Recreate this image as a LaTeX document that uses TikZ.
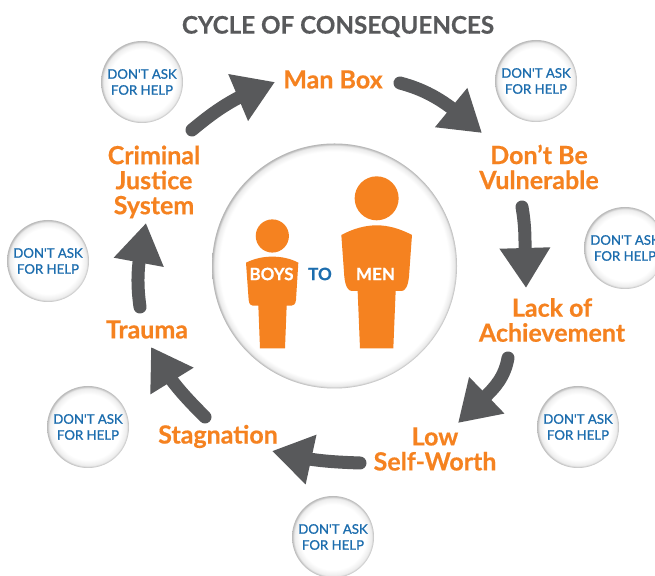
\documentclass[tikz,border=0pt]{standalone}
\usepackage{fontspec}
\setmainfont{Lato}[BoldFeatures={FakeBold=0.5}]
\newfontfamily\askfont{Lato}[FakeBold=1]
\usetikzlibrary{arrows.meta,bending}
\definecolor{cycorange}{HTML}{F58220}
\definecolor{cycgray}{HTML}{58595B}
\definecolor{cycblue}{HTML}{1C6DAE}
\pgfdeclareradialshading{rimglow}{\pgfpoint{0bp}{0bp}}{color(0bp)=(white); color(20bp)=(white); color(23.5bp)=(black!7); color(25bp)=(black!28); color(50bp)=(black!28)}
\pgfdeclareradialshading{hubglow}{\pgfpoint{0bp}{0bp}}{color(0bp)=(white); color(23.4bp)=(white); color(24.5bp)=(black!8); color(25bp)=(black!30); color(50bp)=(black!30)}
\tikzset{
  stage/.style={text=cycorange,font=\bfseries\fontsize{25}{25}\selectfont,align=center,inner sep=0pt},
  askbtn/.style={circle,minimum size=82pt,inner sep=0pt,shading=rimglow,text=cycblue,align=center,font=\askfont\fontsize{13.2}{16}\selectfont},
  cycarrow/.style={draw=cycgray,line width=13pt,line cap=round,-{Triangle[length=40pt,width=48pt,fill=cycgray]}},
  figlabel/.style={inner sep=0pt,font=\bfseries\fontsize{17}{17}\selectfont}
}
\begin{document}
\begin{tikzpicture}[x=1pt,y=1pt]
\useasboundingbox (0,0) rectangle (655,575);
\node[text=cycgray,font=\bfseries\fontsize{24.2}{24}\selectfont] (title) at (338,548.5) {CYCLE OF CONSEQUENCES};
\node[circle,minimum size=245pt,inner sep=0pt,shading=hubglow] (hub) at (334.5,309) {};
\foreach \name/\x/\y in {ask1/142/493,ask2/536/494,ask3/625/327,ask4/578/148,ask5/333/38,ask6/88/148,ask7/48/314}
  \node[askbtn] (\name) at (\x,\y) {DON'T ASK\\FOR HELP};
% people
\begin{scope}[shift={(210,435)},x=0.3333pt,y=-0.3333pt]
\fill[cycorange] (187,288) circle (16.6pt);
\fill[cycorange] (500,175) circle (22pt);
\fill[cycorange] (108,368) .. controls (135,355) and (160,350) .. (187,350) .. controls (214,350) and (240,355) .. (265,368)
  -- (258,480) .. controls (256,492) and (252,497) .. (245,497) -- (230,497) -- (225,625) -- (150,625) -- (145,497) -- (128,497)
  .. controls (121,497) and (118,492) .. (116,480) -- cycle;
\fill[cycorange] (394,285) .. controls (430,266) and (465,256) .. (500,256) .. controls (535,256) and (570,266) .. (606,285)
  -- (597,410) .. controls (594,440) and (585,453) .. (575,453) -- (557,453) -- (550,625) -- (450,625) -- (443,453) -- (425,453)
  .. controls (415,453) and (406,440) .. (403,410) -- cycle;
\end{scope}
\node[figlabel,text=white] (boys) at (271.5,301) {BOYS};
\node[figlabel,text=cycblue] (to) at (320,301) {TO};
\node[figlabel,text=white] (men) at (375.5,301) {MEN};
% stages
\node[stage] (manbox) at (333,495.5) {Man Box};
\node[stage] (vulnerable) at (539,408) {Don't Be\\Vulnerable};
\node[stage] (lack) at (552,255) {Lack of\\Achievement};
\node[stage] (selfworth) at (435,126) {Low\\Self-Worth};
\node[stage] (stagnation) at (218,138.5) {Stagnation};
\node[stage] (trauma) at (147,245.5) {Trauma};
\node[stage] (justice) at (154,393) {Criminal\\Justice\\System};
% arrows
\draw[cycarrow] ([shift={(67,-3.5)}]manbox.center) to[out=-15,in=140] ([shift={(-57,34)}]vulnerable.center);
\draw[cycarrow] ([shift={(-17,-40)}]vulnerable.center) to[out=-80,in=95] ([shift={(-26,32)}]lack.center);
\draw[cycarrow] ([shift={(-44,-38)}]lack.center) to[out=-100,in=49] ([shift={(23,26)}]selfworth.center);
\draw[cycarrow] ([shift={(-75,-14)}]selfworth.center) to[out=178,in=-15] ([shift={(54,-14.5)}]stagnation.center);
\draw[cycarrow] ([shift={(-13,19.5)}]stagnation.center) to[out=135,in=-62] ([shift={(4,-17.5)}]trauma.center);
\draw[cycarrow] ([shift={(-7,22.5)}]trauma.center) to[out=98,in=-102] ([shift={(-8,-41)}]justice.center);
\draw[cycarrow] ([shift={(38,52)}]justice.center) to[out=40,in=-160] ([shift={(-58,-2.5)}]manbox.center);
\end{tikzpicture}
\end{document}
